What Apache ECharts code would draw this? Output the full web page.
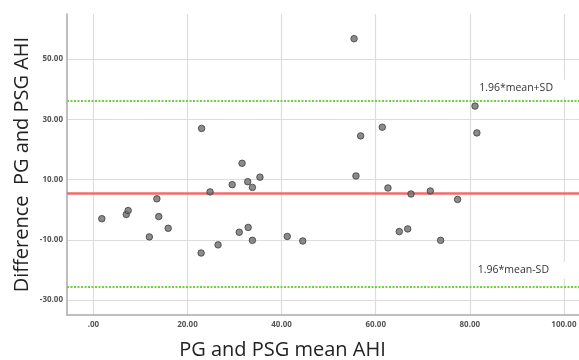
<!DOCTYPE html>
<html><head><meta charset="utf-8">
<script src="https://cdn.jsdelivr.net/npm/echarts@6/dist/echarts.min.js"></script>
<style>html,body{margin:0;padding:0;background:#fff}#c{width:579px;height:360px}</style>
</head><body><div id="c"></div>
<script>
const meanAHI = [1.8, 7.0, 7.4, 11.9, 13.5, 13.9, 15.9, 22.9, 23.0, 24.8, 26.5, 29.5, 31.0, 31.6, 32.8, 32.9, 33.8, 33.8, 35.4, 41.2, 44.5, 55.4, 55.8, 56.8, 61.4, 62.6, 65.0, 66.8, 67.5, 71.6, 73.8, 77.4, 81.1, 81.5];
const diffAHI = [-3.0, -1.6, -0.3, -9.05, 3.6, -2.3, -6.2, -14.4, 27.0, 5.9, -11.7, 8.3, -7.5, 15.4, 9.3, -5.9, 7.4, -10.2, 10.8, -8.9, -10.4, 56.8, 11.2, 24.5, 27.4, 7.2, -7.3, -6.4, 5.2, 6.2, -10.2, 3.4, 34.4, 25.5];
const meanDiff = 5.3;
const upperLoA = 36.2;
const lowerLoA = -25.6;
const xTicks = [0, 20, 40, 60, 80, 100];
const yTicks = [-30, -10, 10, 30, 50];
const upperLabel = '1.96*mean+SD';
const lowerLabel = '1.96*mean-SD';
const xTitle = 'PG and PSG mean AHI';
const yTitle = 'Difference  PG and PSG AHI';

const chart = echarts.init(document.getElementById('c'));
const fmt = v => v === 0 ? '.00' : v.toFixed(2);
const tickLabel = {color:'#555', fontSize:8, fontWeight:'bold', fontFamily:'Open Sans'};
const lblStyle = (txt, dist) => ({
  show:true, formatter: txt, position:'insideEndTop', distance: dist,
  color:'#333', fontSize:10.5, fontFamily:'Open Sans', backgroundColor:'#fff',
  padding:[3,22,3,3]
});
chart.setOption({
  animation:false,
  grid:{left:67, top:14, right:0, bottom:45, outerBoundsMode:'none', containLabel:false},
  xAxis:{type:'value', min:-5.6, max:103.2,
    name:xTitle, nameLocation:'middle', nameGap:25, nameMoveOverlap:false,
    nameTextStyle:{fontSize:20, color:'#222', fontFamily:'Open Sans', padding:[0,81,0,0]},
    axisLine:{show:true, onZero:false, lineStyle:{color:'#aaa', width:1.5}},
    axisTick:{show:false, customValues:xTicks},
    axisLabel:{customValues:xTicks, formatter:fmt, margin:6, ...tickLabel},
    splitLine:{show:true, lineStyle:{color:'#ddd', width:1.2}}
  },
  yAxis:{type:'value', min:-35, max:65,
    name:yTitle, nameLocation:'middle', nameGap:35, nameRotate:90, nameMoveOverlap:false,
    nameTextStyle:{fontSize:20, color:'#222', fontFamily:'Open Sans'},
    axisLine:{show:true, onZero:false, lineStyle:{color:'#aaa', width:1.5}},
    axisTick:{show:false, customValues:yTicks},
    axisLabel:{customValues:yTicks, formatter:v=>v.toFixed(2), margin:4, ...tickLabel},
    splitLine:{show:true, lineStyle:{color:'#ddd', width:1.2}}
  },
  series:[{
    type:'scatter', symbolSize:6.5,
    itemStyle:{color:'#6e6e6e', borderColor:'#3c3c3c', borderWidth:1},
    data: meanAHI.map((x,i)=>[x, diffAHI[i]]),
    z:5,
    markLine:{silent:true, symbol:'none', animation:false,
      data:[
        {yAxis:meanDiff, lineStyle:{color:'#f26b6b', width:2.5, type:'solid'}, label:{show:false}},
        {yAxis:upperLoA, lineStyle:{color:'#6fd13a', width:2, type:[2,1.5]}, label:lblStyle(upperLabel, 4)},
        {yAxis:lowerLoA, lineStyle:{color:'#6fd13a', width:2, type:[2,1.5]}, label:lblStyle(lowerLabel, 8)}
      ]}
  }]
});
</script></body></html>
